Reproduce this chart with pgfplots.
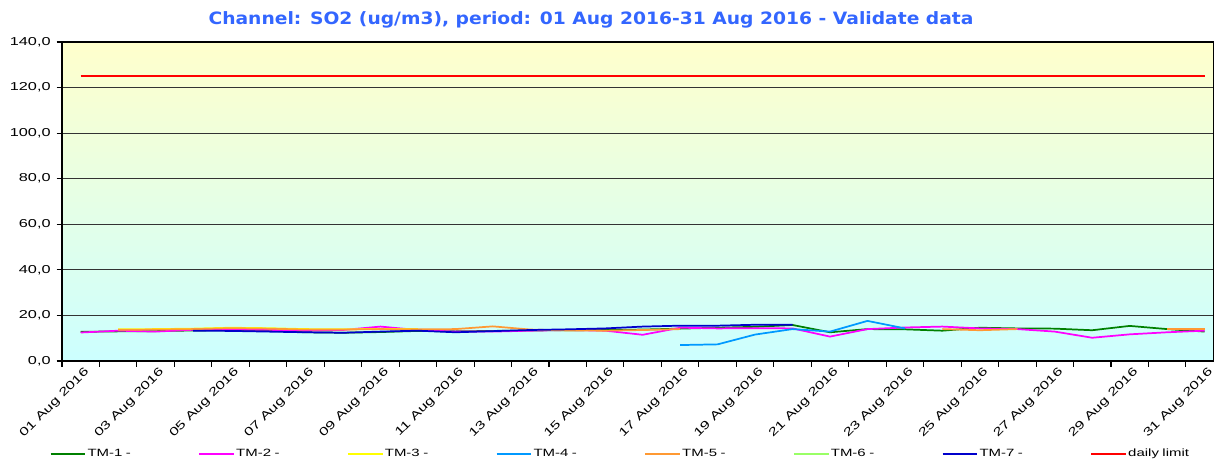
\documentclass[border=0pt]{standalone}
\usepackage{fontspec}
\setmainfont{Liberation Sans}[FakeStretch=1.42]
\newfontfamily\titlefont{DejaVu Sans}[FakeStretch=1.1]
\usepackage{pgfplots}
\pgfplotsset{compat=1.18}

\definecolor{bgtop}{RGB}{255,255,204}
\definecolor{bgmid}{RGB}{226,255,226}
\definecolor{bgbot}{RGB}{204,255,255}
\definecolor{titleblue}{RGB}{51,102,255}
\definecolor{tmone}{RGB}{0,128,0}
\definecolor{tmtwo}{RGB}{255,0,255}
\definecolor{tmthree}{RGB}{255,255,0}
\definecolor{tmfour}{RGB}{0,153,255}
\definecolor{tmfive}{RGB}{255,153,51}
\definecolor{tmsix}{RGB}{153,255,102}
\definecolor{tmseven}{RGB}{0,0,204}

\begin{document}
\begin{tikzpicture}
\begin{axis}[
  name=ax, at={(0,0)}, anchor=south west,
  scale only axis, width=864pt, height=239.25pt,
  xmin=0.5, xmax=31.25, ymin=0, ymax=140,
  axis background/.style={top color=bgtop, middle color=bgmid, bottom color=bgbot},
  ytick={0,20,...,140},
  xtick={1,3,...,31},
  xticklabels={01 Aug 2016,03 Aug 2016,05 Aug 2016,07 Aug 2016,09 Aug 2016,
    11 Aug 2016,13 Aug 2016,15 Aug 2016,17 Aug 2016,19 Aug 2016,21 Aug 2016,
    23 Aug 2016,25 Aug 2016,27 Aug 2016,29 Aug 2016,31 Aug 2016},
  minor xtick={0.5,1.5,...,31.5},
  major x tick style={draw=none},
  minor x tick style={draw=black, line width=0.8pt},
  y tick style={draw=black, line width=0.8pt},
  tick align=outside, tick pos=left,
  major tick length=4pt, minor tick length=4.5pt,
  ymajorgrids, grid style={draw=black!80, line width=0.65pt},
  axis line style={black, line width=0.9pt},
  /pgf/number format/assume math mode=true,
  yticklabel={\pgfmathprintnumber[fixed, fixed zerofill, precision=1, use comma]{\tick}},
  tick label style={font=\fontsize{8.6}{10}\selectfont, text=black},
  yticklabel style={xshift=-1pt},
  xticklabel style={rotate=45, anchor=north east, xshift=3pt, yshift=0pt, inner sep=1.5pt},
  legend columns=8,
  legend style={at={(-0.0145,-0.2915)}, anchor=west, draw=none, fill=none,
    font=\fontsize{7.9}{10}\selectfont, column sep=0pt,
    nodes={text width=82pt, inner sep=1pt}},
  legend cell align=left,
  legend image code/.code={\draw[#1, line width=1.5pt] (0pt,0pt) -- (26pt,0pt);},
  every axis plot/.append style={line width=1.3pt, mark=none},
]
\addplot[tmone] coordinates {
  (1,12.8) (2,13.0) (3,13.1) (4,13.4) (5,13.5) (6,13.3) (7,12.6) (8,12.4)
  (9,12.7) (10,13.2) (11,13.0) (12,13.2) (13,13.4) (14,13.5) (15,13.6)
  (16,13.8) (17,14.2) (18,14.6) (19,15.0) (20,15.8) (21,12.6) (22,14.0)
  (23,13.9) (24,13.3) (25,14.6) (26,14.3) (27,14.2) (28,13.5) (29,15.4)
  (30,14.0) (31,12.9)};
\addlegendentry{TM-1 -}
\addplot[tmtwo] coordinates {
  (1,12.5) (2,13.3) (3,12.9) (4,13.7) (5,13.8) (6,13.7) (7,13.3) (8,13.6)
  (9,15.1) (10,13.6) (11,12.9) (12,12.9) (13,13.3) (14,13.6) (15,13.3)
  (16,11.5) (17,14.6) (18,14.3) (19,14.4) (20,14.3) (21,10.7) (22,14.0)
  (23,14.7) (24,15.1) (25,14.3) (26,14.0) (27,12.9) (28,10.2) (29,11.7)
  (30,12.6) (31,13.3)};
\addlegendentry{TM-2 -}
\addplot[tmthree] coordinates {
  (2,13.9) (3,14.0) (4,14.2) (5,14.6) (6,14.4) (7,14.0) (8,13.9) (9,14.1)
  (10,14.0)};
\addlegendentry{TM-3 -}
\addplot[tmfour] coordinates {
  (17,7.0) (18,7.3) (19,11.6) (20,14.0) (21,12.9) (22,17.6) (23,14.3)};
\addlegendentry{TM-4 -}
\addplot[tmfive] coordinates {
  (2,13.7) (3,13.8) (4,14.0) (5,14.4) (6,14.2) (7,13.8) (8,13.8) (9,14.0)
  (10,13.9) (11,14.0) (12,15.2) (13,13.8) (14,13.4) (15,13.3) (16,13.6)
  (17,14.0)};
\addlegendentry{TM-5 -}
\addplot[tmfive, forget plot] coordinates {(24,14.0) (25,13.5) (26,14.0)};
\addplot[tmfive, forget plot] coordinates {(30,14.0) (31,14.0)};
\addlegendimage{tmsix, line width=1.3pt}
\addlegendentry{TM-6 -}
\addplot[tmseven] coordinates {
  (4,13.3) (5,13.2) (6,12.9) (7,12.6) (8,12.4) (9,12.9) (10,13.3) (11,12.6)
  (12,13.1) (13,13.6) (14,13.9) (15,14.3) (16,15.1) (17,15.5) (18,15.5)
  (19,15.9) (20,15.9)};
\addlegendentry{TM-7 -}
\addplot[red] coordinates {(1,125) (31,125)};
\addlegendentry{daily limit}
\end{axis}
\path (ax.north west) ++(396.75pt,16.5pt) node[font=\titlefont\bfseries\fontsize{12.75}{15}\selectfont, text=titleblue]
  {Channel: SO2 (ug/m3), period: 01 Aug 2016-31 Aug 2016 - Validate data};
\pgfresetboundingbox
\path[use as bounding box] ([xshift=-46.5pt,yshift=-73.5pt]ax.south west) rectangle ([yshift=31.5pt]ax.north east);
\end{tikzpicture}
\end{document}
